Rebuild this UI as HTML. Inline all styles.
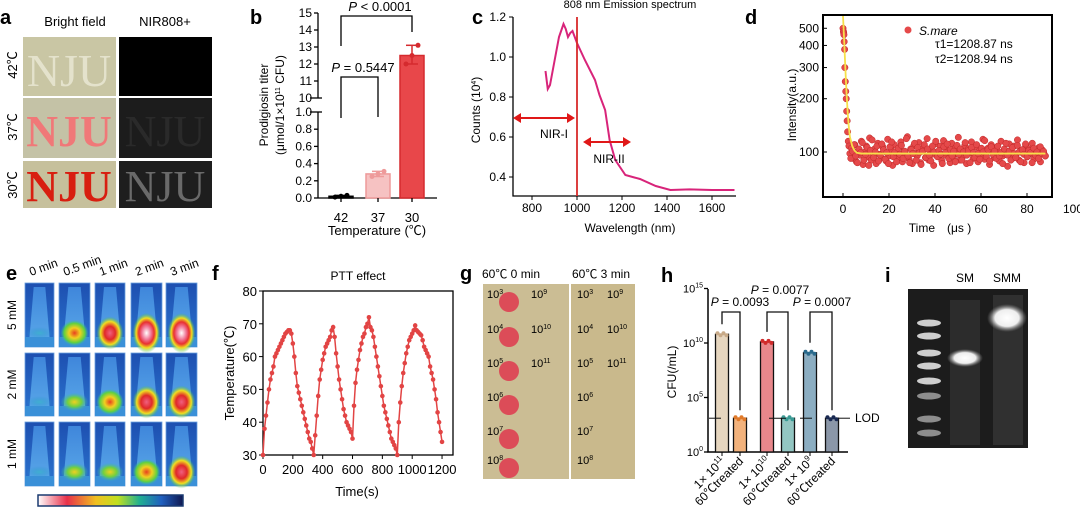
<!DOCTYPE html>
<html><head><meta charset="utf-8"><style>
body{margin:0;background:#fff;width:1080px;height:512px;overflow:hidden}
svg{display:block;font-family:"Liberation Sans","Noto Sans CJK SC",sans-serif}
</style></head><body>
<svg id="fig" width="1080" height="512" viewBox="0 0 1080 512">
<defs>
<linearGradient id="bgblue" x1="0" y1="0" x2="0" y2="1"><stop offset="0" stop-color="#1d4fb0"/><stop offset="1" stop-color="#2b74cf"/></linearGradient>
<linearGradient id="cone" x1="0" y1="0" x2="0" y2="1"><stop offset="0" stop-color="#3f86db"/><stop offset="1" stop-color="#58a6e8"/></linearGradient>
<radialGradient id="h4"><stop offset="0" stop-color="#fff"/><stop offset=".35" stop-color="#f07090"/><stop offset=".55" stop-color="#e83030"/><stop offset=".75" stop-color="#f0e020"/><stop offset="1" stop-color="#30c060" stop-opacity="0"/></radialGradient>
<radialGradient id="h3"><stop offset="0" stop-color="#f06080"/><stop offset=".4" stop-color="#e02828"/><stop offset=".7" stop-color="#f0e020"/><stop offset="1" stop-color="#30c060" stop-opacity="0"/></radialGradient>
<radialGradient id="h2"><stop offset="0" stop-color="#e84020"/><stop offset=".4" stop-color="#f0d020"/><stop offset=".75" stop-color="#60d040"/><stop offset="1" stop-color="#30c0a0" stop-opacity="0"/></radialGradient>
<radialGradient id="h1"><stop offset="0" stop-color="#f0d020"/><stop offset=".5" stop-color="#70d040"/><stop offset="1" stop-color="#30b0c0" stop-opacity="0"/></radialGradient>
<radialGradient id="h0"><stop offset="0" stop-color="#40b0d0"/><stop offset="1" stop-color="#3090d0" stop-opacity="0"/></radialGradient>
<linearGradient id="cbar" x1="0" x2="1"><stop offset="0" stop-color="#fff"/><stop offset=".2" stop-color="#e8304a"/><stop offset=".4" stop-color="#f0c020"/><stop offset=".55" stop-color="#c0e020"/><stop offset=".7" stop-color="#20b090"/><stop offset=".85" stop-color="#2060c0"/><stop offset="1" stop-color="#101850"/></linearGradient>
<radialGradient id="band"><stop offset="0" stop-color="#fff"/><stop offset=".6" stop-color="#eee"/><stop offset="1" stop-color="#888" stop-opacity="0"/></radialGradient>
</defs>

<g>
<text x="0" y="24" font-size="20" font-weight="bold">a</text>
<text x="75" y="26" font-size="13" text-anchor="middle">Bright field</text>
<text x="165" y="26" font-size="13" text-anchor="middle">NIR808+</text>
<text transform="translate(17,65) rotate(-90)" font-size="13" text-anchor="middle">42℃</text>
<text transform="translate(17,127) rotate(-90)" font-size="13" text-anchor="middle">37℃</text>
<text transform="translate(17,185) rotate(-90)" font-size="13" text-anchor="middle">30℃</text>
<rect x="23" y="37" width="93" height="59" fill="#c9c6a4"/>
<rect x="23" y="98" width="93" height="60" fill="#c4c2a6"/>
<rect x="23" y="161" width="93" height="47" fill="#c6c09c"/>
<rect x="119" y="37" width="93" height="59" fill="#000"/>
<rect x="119" y="98" width="93" height="60" fill="#1c1c1c"/>
<rect x="119" y="161" width="93" height="47" fill="#1e1e1e"/>
<text x="69" y="86" font-size="46" font-family="Liberation Serif,serif" text-anchor="middle" fill="#e4e2cc">NJU</text>
<text x="69" y="146" font-size="44" font-family="Liberation Serif,serif" font-weight="bold" text-anchor="middle" fill="#f07878">NJU</text>
<text x="69" y="201" font-size="44" font-family="Liberation Serif,serif" font-weight="bold" text-anchor="middle" fill="#d81e10">NJU</text>
<text x="165" y="146" font-size="44" font-family="Liberation Serif,serif" text-anchor="middle" fill="#2a2a2a">NJU</text>
<text x="165" y="201" font-size="44" font-family="Liberation Serif,serif" text-anchor="middle" fill="#6a6a6a">NJU</text>
</g>

<g id="pb"><text x="250" y="24" font-size="20" font-weight="bold">b</text></g>
<g id="pc"><text x="472" y="24" font-size="20" font-weight="bold">c</text></g>
<g id="pd"><text x="745" y="24" font-size="20" font-weight="bold">d</text></g>

<g id="pe">
<text x="6" y="280" font-size="20" font-weight="bold">e</text>
<rect x="38" y="495" width="145" height="11" fill="url(#cbar)" stroke="#1a3a70" stroke-width="1.5"/>
</g>

<g id="pf"><text x="212" y="280" font-size="20" font-weight="bold">f</text></g>

<g id="pg">
<text x="460" y="280" font-size="20" font-weight="bold">g</text>
<text x="482" y="278" font-size="12">60℃ 0 min</text>
<text x="572" y="278" font-size="12">60℃ 3 min</text>
<rect x="483" y="284" width="86" height="195" fill="#cbbd94"/>
<rect x="571" y="284" width="64" height="195" fill="#c9b98c"/>
</g>

<g id="ph"><text x="661" y="282" font-size="20" font-weight="bold">h</text></g>

<g id="pi">
<text x="885" y="282" font-size="20" font-weight="bold">i</text>
<text x="965" y="282" font-size="12" text-anchor="middle">SM</text>
<text x="1007" y="282" font-size="12" text-anchor="middle">SMM</text>
<rect x="908" y="289" width="120" height="159" fill="#1c1c1c"/>
<rect x="950" y="300" width="30" height="145" fill="#2c2c2c"/>
<rect x="993" y="295" width="30" height="150" fill="#303030"/>
<ellipse cx="965" cy="358" rx="18" ry="9" fill="url(#band)"/>
<ellipse cx="1007" cy="318" rx="20" ry="14" fill="url(#band)"/>
</g>
</svg>
<script>
const NS='http://www.w3.org/2000/svg';
function mk(tag,parent,a){const e=document.createElementNS(NS,tag);for(const k in a)e.setAttribute(k,a[k]);parent.appendChild(e);return e;}
function txt(parent,x,y,s,a){const e=mk('text',parent,Object.assign({x:x,y:y,'font-size':12},a||{}));e.innerHTML=s;return e;}

const bCats=['42','37','30'];
const bMeans=[0.02,0.28,12.5];
const bErrLo=[0.01,0.25,12.0];
const bErrHi=[0.03,0.31,13.1];
const bTicksUpper=[10,11,12,13,14,15];
const bTicksLower=[0,0.2,0.4,0.6,0.8,1.0];

const cWave=[860,870,880,900,920,940,950,960,970,980,1000,1035,1080,1100,1125,1145,1170,1215,1280,1350,1415,1500,1600,1700];
const cCounts=[0.93,0.84,0.86,0.98,1.10,1.165,1.14,1.10,1.12,1.13,1.07,0.985,0.885,0.81,0.735,0.585,0.485,0.41,0.39,0.355,0.335,0.338,0.335,0.335];
const cXTicks=[800,1000,1200,1400,1600];
const cYTicks=[0.4,0.6,0.8,1.0,1.2];

const dDecayT=[0,0.2,0.3,0.4,0.5,0.7,0.8,1.0,1.2,1.4,1.6,1.8,2.0,2.3,2.6];
const dDecayI=[500,480,470,460,420,380,300,250,220,200,170,150,130,115,108];
const dNoise=[98,105,92,110,88,102,96,115,85,100,108,94,120,90,99,104,86,112,97,93,107,101,89,118,95,103,84,110,99,92,106,114,88,100,97,122,91,104,86,109,98,95,113,87,101,106,93,119,90,102,97,84,111,100,94,108,89,116,96,103,99,87,112,92,105,98,121,90,101,95,109,86,104,99,114,92,97,107,88,102,96,118,91,100,105,85,110,98,93,106,101,89,115,95,103,97,83,111,100,92,108,96,117,90,102,99,87,109,94,104,98,112,91,100,96,106,88,103,99,95];
const dNoise2=[92,101,110,95,87,104,99,113,90,97,106,84,102,117,93,100,108,89,96,111,103,91,99,86,107,114,94,100,88,105,97,109,92,101,119,95,87,103,98,112,90,106,99,85,101,110,93,104,96,89,108,100,115,94,102,97,86,107,99,111,92,103,95,101,88,109,97,104,90,100,113,96,102,87,106,99,93,110,98,91,105,100,116,94,103,89,107,97,101,92,108,95,99,86,104,112,96,101,90,106,98,93,109,100,88,103,97,111,94,102,99,87,105,96,100,92,107,98,101,95];
const dFitT=[0,0.5,1,1.5,2,2.5,3,4,5,6,8,88];
const dFitI=[600,430,300,220,170,140,122,108,102,99,98,98];
const dXTicks=[0,20,40,60,80,100];
const dYTicks=[100,200,300,400,500];

const fTemps=[30,38,42,46,50,53,55,57,60,61,62,63,64,65,66,67,67.5,68,
68,67,64,60,55,51,49,47,45,43,41,39,37,35,34,32,30,
36,42,48,53,56,59,61,63,64,65,66,68,69,
66,61,57,53,50,47,44,42,40,39,38,37,35,
45,52,56,59,62,64,66,67,69,70,72,
69,68,66,63,60,57,54,51,48,45,43,41,39,37,35,34,33,32,30,
40,46,51,55,58,61,63,65,66,67,68,69.5,
68,67.5,67,66.5,65,63,62,61,60,57,55,53,50,47,43,40,37,34];
const fStep=10;
const fXTicks=[0,200,400,600,800,1000,1200];
const fYTicks=[30,40,50,60,70,80];

const hCats=['1× 10<tspan font-size="8" dy="-5">11</tspan>','60℃treated','1× 10<tspan font-size="8" dy="-5">10</tspan>','60℃treated','1× 10<tspan font-size="8" dy="-5">9</tspan>','60℃treated'];
const hLog=[10.8,3.1,10.1,3.1,9.1,3.1];
const hLOD=3.1;
const hYTicks=[0,5,10,15];

const eTimes=['0 min','0.5 min','1 min','2 min','3 min'];
const eConc=['5 mM','2 mM','1 mM'];
const eHeat=[[0,2,3,4,4],[0,1,2,3,3],[0,1,1,2,3]];

const gLeft=['3','4','5','6','7','8'];
const gRight=['9','10','11'];
const ladderY=[323,336,353,366,381,396,419,433];

(function(){
const g=document.getElementById('pb');
const x0=318,xEnd=437,yBase=198;
const yb=v=>v<=1.05?yBase-v*86:98-(v-10)*17;
const bx=[341,378,412];
let ax=mk('line',g,{x1:x0,y1:yBase,x2:x0,y2:112,stroke:'#000','stroke-width':1.3});

ax=mk('line',g,{x1:x0,y1:98,x2:x0,y2:13,stroke:'#000','stroke-width':1.3});

ax=mk('line',g,{x1:x0,y1:yBase,x2:xEnd,y2:yBase,stroke:'#000','stroke-width':1.3});

[...bTicksUpper,...bTicksLower].forEach(v=>{
 const y=yb(v);
 const w=(v===10||v===1.0)?8:4;
 mk('line',g,{x1:x0-w,y1:y,x2:x0+(w>4?4:0),y2:y,stroke:'#000','stroke-width':1.3});
 const t=txt(g,x0-6,y+4,v>=10?String(v):v.toFixed(1),{'text-anchor':'end','font-size':12});
 
});
const fills=['#111','#f6c2c2','#e8474a'],strokes=['#000','#ee9a9a','#d52a2e'];
bCats.forEach((c,i)=>{
 const y=yb(bMeans[i]);
 const r=mk('rect',g,{x:bx[i]-12,y:y,width:24,height:yBase-y,fill:fills[i],stroke:strokes[i],'stroke-width':1.5});
 
 const lo=yb(bErrLo[i]),hi=yb(bErrHi[i]);
 mk('line',g,{x1:bx[i],y1:lo,x2:bx[i],y2:hi,stroke:strokes[i],'stroke-width':1.5});
 mk('line',g,{x1:bx[i]-6,y1:hi,x2:bx[i]+6,y2:hi,stroke:strokes[i],'stroke-width':1.5});
 mk('line',g,{x1:bx[i]-6,y1:lo,x2:bx[i]+6,y2:lo,stroke:strokes[i],'stroke-width':1.5});
 [bErrLo[i],bMeans[i],bErrHi[i]].forEach((v,k)=>{const p=mk('circle',g,{cx:bx[i]-6+k*6,cy:yb(v),r:2.5,fill:strokes[i]});
  });
 mk('line',g,{x1:bx[i],y1:yBase,x2:bx[i],y2:yBase+4,stroke:'#000','stroke-width':1.3});
 const t=txt(g,bx[i],222,c,{'text-anchor':'middle','font-size':13});
 
});
let t=txt(g,377,235,'Temperature (℃)',{'text-anchor':'middle','font-size':13});

t=txt(g,0,0,'Prodigiosin titer',{'text-anchor':'middle','font-size':12,transform:'translate(268,105) rotate(-90)'});

t=txt(g,0,0,'(μmol/1×10<tspan font-size="7" dy="-4">11</tspan><tspan dy="4"> CFU)</tspan>',{'text-anchor':'middle','font-size':12,transform:'translate(284,105) rotate(-90)'});

let p=mk('path',g,{d:`M${bx[0]} 46 V16 H${bx[2]} V32`,fill:'none',stroke:'#000','stroke-width':1.3});

t=txt(g,380,11,'<tspan font-style="italic">P</tspan> &lt; 0.0001',{'text-anchor':'middle','font-size':13});

p=mk('path',g,{d:`M${bx[0]} 118 V77 H${bx[1]} V117`,fill:'none',stroke:'#000','stroke-width':1.3});

t=txt(g,363,72,'<tspan font-style="italic">P</tspan> = 0.5447',{'text-anchor':'middle','font-size':13});

})();

(function(){
const g=document.getElementById('pc');
const xc=w=>532+(w-800)*0.225, yc=v=>17+(1.2-v)*200;
let a=mk('path',g,{d:'M513 17 V196 H736',fill:'none',stroke:'#000','stroke-width':1.3});

cYTicks.forEach(v=>{mk('line',g,{x1:509,y1:yc(v),x2:513,y2:yc(v),stroke:'#000'});
 const t=txt(g,506,yc(v)+4,v.toFixed(1),{'text-anchor':'end','font-size':12});
 });
cXTicks.forEach(v=>{mk('line',g,{x1:xc(v),y1:196,x2:xc(v),y2:200,stroke:'#000'});
 const t=txt(g,xc(v),212,String(v),{'text-anchor':'middle','font-size':12});
 });
let t=txt(g,630,8,'808 nm Emission spectrum',{'text-anchor':'middle','font-size':11});

t=txt(g,630,232,'Wavelength (nm)',{'text-anchor':'middle','font-size':12});

t=txt(g,0,0,'Counts (10<tspan font-size="7" dy="-4">4</tspan><tspan dy="4">)</tspan>',{'text-anchor':'middle','font-size':12,transform:'translate(480,110) rotate(-90)'});

const l=mk('polyline',g,{points:cWave.map((w,i)=>xc(w)+','+yc(cCounts[i])).join(' '),fill:'none',stroke:'#d8247a','stroke-width':2});

const v=mk('line',g,{x1:xc(1000),y1:17,x2:xc(1000),y2:196,stroke:'#d82a2a','stroke-width':1.8});

function arrow(x1,x2,y,name){const ar=mk('g',g,{});
 
 mk('line',ar,{x1:x1+5,y1:y,x2:x2-5,y2:y,stroke:'#e01818','stroke-width':2});
 mk('path',ar,{d:`M${x1} ${y} l8 -5 v10z M${x2} ${y} l-8 -5 v10z`,fill:'#e01818'});}
arrow(513,575,118,'nir-i-arrow');arrow(583,631,142,'nir-ii-arrow');
t=txt(g,554,138,'NIR-I',{'text-anchor':'middle','font-size':12});

t=txt(g,609,163,'NIR-II',{'text-anchor':'middle','font-size':12});

})();

(function(){
const g=document.getElementById('pd');
const xd=t=>843+t*2.3, yd=v=>152-Math.log10(v/100)*177;
let b=mk('rect',g,{x:823,y:15,width:229,height:182,fill:'none',stroke:'#000','stroke-width':2});

dYTicks.forEach(v=>{mk('line',g,{x1:823,y1:yd(v),x2:827,y2:yd(v),stroke:'#000'});
 const t=txt(g,819,yd(v)+4,String(v),{'text-anchor':'end','font-size':12});
 });
dXTicks.forEach(v=>{if(xd(v)<1052)mk('line',g,{x1:xd(v),y1:197,x2:xd(v),y2:193,stroke:'#000'});
 const t=txt(g,xd(v),213,String(v),{'text-anchor':'middle','font-size':12});
 });
let t=txt(g,940,232,'Time　(μs )',{'text-anchor':'middle','font-size':12});

t=txt(g,0,0,'Intensity(a.u.)',{'text-anchor':'middle','font-size':12,transform:'translate(796,105) rotate(-90)'});

const pts=mk('g',g,{fill:'#e5494a',stroke:'#c02828','stroke-width':0.5});

dDecayT.forEach((tt,i)=>mk('circle',pts,{cx:xd(tt),cy:yd(dDecayI[i]),r:3.2}));
const n=dNoise.length;
dNoise.forEach((v,i)=>mk('circle',pts,{cx:xd(3+i*85/(n-1)),cy:yd(v),r:3.2}));
dNoise2.forEach((v,i)=>mk('circle',pts,{cx:xd(3.4+i*84.5/(dNoise2.length-1)),cy:yd(v),r:3.2}));
const f=mk('polyline',g,{points:dFitT.map((tt,i)=>xd(tt)+','+Math.max(16,yd(dFitI[i]))).join(' '),fill:'none',stroke:'#f6e04a','stroke-width':1.8});

const lg=mk('g',g,{});
mk('circle',lg,{cx:908,cy:30,r:3.5,fill:'#e5494a'});
txt(lg,919,35,'S.mare',{'font-size':12,'font-style':'italic'});
txt(lg,935,48,'τ1=1208.87 ns',{'font-size':12});
txt(lg,935,63,'τ2=1208.94 ns',{'font-size':12});
})();

(function(){
const g=document.getElementById('pe');
const cx=[25,59,95,131,166],cw=[29,31,30,31,31];
const ry=[283,353,422],rh=[64,63,64];
eTimes.forEach((s,j)=>{const t=txt(g,0,0,s,{'font-size':12,transform:`translate(${cx[j]+6},${276}) rotate(-20)`});
 });
eConc.forEach((s,i)=>{const t=txt(g,0,0,s,{'font-size':12,'text-anchor':'middle',transform:`translate(16,${ry[i]+rh[i]/2}) rotate(-90)`});
 
 eHeat[i].forEach((h,j)=>{
  const c=mk('g',g,{});
  
  const x=cx[j],y=ry[i],w=cw[j],hh=rh[i];
  mk('rect',c,{x:x,y:y,width:w,height:hh,fill:'url(#bgblue)',stroke:'#6aa0e0','stroke-width':0.8});
  mk('path',c,{d:`M${x+w*0.3} ${y+4} L${x+w*0.7} ${y+4} L${x+w*0.85} ${y+hh-8} L${x+w*0.15} ${y+hh-8}Z`,fill:'url(#cone)'});
  mk('rect',c,{x:x,y:y+hh-10,width:w,height:10,fill:'#3a90d8'});
  const rx=w*0.45, ryy=6+h*3.5;
  mk('ellipse',c,{cx:x+w/2,cy:y+hh-14,rx:rx,ry:ryy,fill:'url(#h'+h+')'});
 });
});
})();

(function(){
const g=document.getElementById('pf');
const xf=t=>263+t*0.1492, yf=v=>455-(v-30)*3.28;
let b=mk('rect',g,{x:263,y:291,width:190,height:164,fill:'none',stroke:'#000','stroke-width':1.3});

fYTicks.forEach(v=>{mk('line',g,{x1:259,y1:yf(v),x2:263,y2:yf(v),stroke:'#000'});
 const t=txt(g,257,yf(v)+5,String(v),{'text-anchor':'end','font-size':13});
 });
fXTicks.forEach(v=>{mk('line',g,{x1:xf(v),y1:455,x2:xf(v),y2:459,stroke:'#000'});
 const t=txt(g,xf(v),474,String(v),{'text-anchor':'middle','font-size':13});
 });
let t=txt(g,358,280,'PTT effect',{'text-anchor':'middle','font-size':12});

t=txt(g,357,496,'Time(s)',{'text-anchor':'middle','font-size':13});

t=txt(g,0,0,'Temperature(℃)',{'text-anchor':'middle','font-size':13,transform:'translate(234,373) rotate(-90)'});

const l=mk('polyline',g,{points:fTemps.map((v,i)=>xf(i*fStep)+','+yf(v)).join(' '),fill:'none',stroke:'#e24444','stroke-width':1.5});

const pts=mk('g',g,{fill:'#e24444'});

fTemps.forEach((v,i)=>mk('circle',pts,{cx:xf(i*fStep),cy:yf(v),r:2.3}));
})();

(function(){
const g=document.getElementById('pg');
const rows=[302,337,371,405,439,468];
gLeft.forEach((e,i)=>{
 const d=mk('circle',g,{cx:509,cy:rows[i],r:10,fill:'#dc4c58'});
 
 let t=txt(g,487,rows[i]-4,'10<tspan font-size="7" dy="-4">'+e+'</tspan>',{'font-size':11});
 
 t=txt(g,577,rows[i]-4,'10<tspan font-size="7" dy="-4">'+e+'</tspan>',{'font-size':11});
 
});
gRight.forEach((e,i)=>{
 let t=txt(g,531,rows[i]-4,'10<tspan font-size="7" dy="-4">'+e+'</tspan>',{'font-size':11});
 
 t=txt(g,607,rows[i]-4,'10<tspan font-size="7" dy="-4">'+e+'</tspan>',{'font-size':11});
 
});
})();

(function(){
const g=document.getElementById('ph');
const yh=v=>452-v*10.9;
const bx=[722,740,767,788,810,832];
const fills=['#e6d6bf','#f2b27c','#e8878b','#93c6c2','#8caec2','#8b97a8'];
const dots=['#c8aa88','#e07a2a','#d02a2a','#3a9a94','#2a6a8c','#1a2a52'];
let a=mk('path',g,{d:'M708 289 V452 H848',fill:'none',stroke:'#000','stroke-width':1.5});

hYTicks.forEach(v=>{mk('line',g,{x1:704,y1:yh(v),x2:708,y2:yh(v),stroke:'#000','stroke-width':1.3});
 const t=txt(g,703,yh(v)+4,'10<tspan font-size="7" dy="-5">'+v+'</tspan>',{'text-anchor':'end','font-size':11});
 });
let t=txt(g,0,0,'CFU(/mL)',{'text-anchor':'middle','font-size':12,transform:'translate(676,372) rotate(-90)'});

hLog.forEach((v,i)=>{
 const r=mk('rect',g,{x:bx[i]-6.5,y:yh(v),width:13,height:452-yh(v),fill:fills[i],stroke:'#111','stroke-width':1.3});
 
 for(let k=0;k<4;k++)mk('circle',g,{cx:bx[i]-4.5+k*3,cy:yh(v)+(k%2?1:-1),r:2,fill:dots[i]});
 mk('line',g,{x1:bx[i],y1:452,x2:bx[i],y2:456,stroke:'#000'});
 const lb=txt(g,0,0,hCats[i],{'text-anchor':'end','font-size':12,transform:`translate(${bx[i]+4},${462}) rotate(-45)`});
 
});
const lod=mk('g',g,{stroke:'#111','stroke-width':1});

[[709,721],[769,786],[800,812],[838,850]].forEach(s=>mk('line',lod,{x1:s[0],y1:yh(hLOD),x2:s[1],y2:yh(hLOD)}));
t=txt(g,855,yh(hLOD)+4,'LOD',{'font-size':12});

function br(i,j,name){const p=mk('path',g,{d:`M${bx[i]} ${yh(hLog[i])-10} V312 H${bx[j]} V${yh(hLog[j])-8}`,fill:'none',stroke:'#111','stroke-width':1.3});
 }
br(0,1,'bracket-1e11');br(2,3,'bracket-1e10');br(4,5,'bracket-1e9');
t=txt(g,740,306,'<tspan font-style="italic">P</tspan> = 0.0093',{'text-anchor':'middle','font-size':12});

t=txt(g,780,294,'<tspan font-style="italic">P</tspan> = 0.0077',{'text-anchor':'middle','font-size':12});

t=txt(g,822,306,'<tspan font-style="italic">P</tspan> = 0.0007',{'text-anchor':'middle','font-size':12});

})();

(function(){
const g=document.getElementById('pi');
ladderY.forEach((y,i)=>{const b=mk('ellipse',g,{cx:929,cy:y,rx:12,ry:3.5,fill:'#d8d8d8',opacity:i<5?0.95:0.6});
 });
})();
</script>
</body></html>
